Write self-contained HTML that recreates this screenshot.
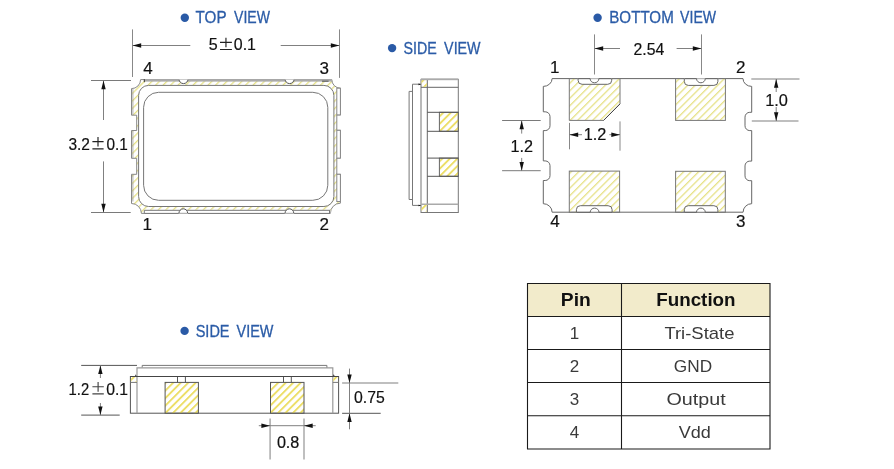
<!DOCTYPE html>
<html><head><meta charset="utf-8">
<style>
html,body{margin:0;padding:0;background:#fff;width:894px;height:469px;overflow:hidden}
svg{display:block;will-change:transform}
text{font-family:"Liberation Sans",sans-serif}
.t{fill:#2b5ca7;stroke:#2b5ca7;stroke-width:0.3px;font-size:15.8px}
.d{fill:#111;stroke:#111;stroke-width:0.2px;font-size:17px}
.th{fill:#111;font-size:18px;font-weight:bold}
.tb{fill:#3a3a3a;font-size:17px}
</style></head>
<body>
<svg width="894" height="469" viewBox="0 0 894 469">
<defs>
<pattern id="hA" width="5.3" height="10" patternUnits="userSpaceOnUse" patternTransform="rotate(45)">
<rect width="1.3" height="10" fill="#e6e186"/>
</pattern>
<pattern id="hB" width="5.3" height="10" patternUnits="userSpaceOnUse" patternTransform="rotate(45)">
<rect width="1.9" height="10" fill="#ecde66"/>
</pattern>
</defs>
<circle cx="184.8" cy="17.8" r="4.2" fill="#2a5aa6"/>
<circle cx="392.1" cy="48.1" r="4.2" fill="#2a5aa6"/>
<circle cx="597.6" cy="17.8" r="4.2" fill="#2a5aa6"/>
<circle cx="184.6" cy="330.9" r="4.2" fill="#2a5aa6"/>
<path d="M140.6,79.6 H331.8 A8.6,8.6 0 0 0 340.4,88.2 V114.9 H336.8 V130.3 H340.4 V158.1 H336.8 V174.3 H340.4 V203.2 A10,10 0 0 0 330.4,213.4 H141.4 A9.9,9.9 0 0 0 131.5,203.5 V174.3 H136.7 V158.3 H131.5 V130.5 H136.7 V115.2 H131.5 V88.6 A9,9 0 0 0 140.6,79.6 Z" fill="url(#hA)" stroke="#888" stroke-width="1"/>
<path d="M132.9,88.8 V115 M132.9,130.7 V158.1 M132.9,174.5 V201.5" stroke="#999" stroke-width="0.8" fill="none"/>
<rect x="336.8" y="88.2" width="3.6" height="26.7" fill="#fff" stroke="#888" stroke-width="1"/>
<rect x="336.8" y="130.3" width="3.6" height="27.8" fill="#fff" stroke="#888" stroke-width="1"/>
<rect x="336.8" y="174.3" width="3.6" height="27.2" fill="#fff" stroke="#888" stroke-width="1"/>
<rect x="144.3" y="79.1" width="187.7" height="2.5" fill="#aaa"/>
<path d="M144.3,79.2 V82.2" stroke="#333" stroke-width="1" fill="none"/>
<path d="M322,81.2 H328.6" stroke="#555" stroke-width="1" fill="none"/>
<rect x="144.3" y="209.8" width="186" height="3.6" fill="#fff"/>
<path d="M144.3,210.3 H330 M144.3,213.4 H330" stroke="#777" stroke-width="1" fill="none"/>
<path d="M144.3,210.3 V213.4 M329.5,210.3 V213.4" stroke="#777" stroke-width="1" fill="none"/>
<path d="M179.0,79.1 A4.5,4.5 0 0 0 188.0,79.1 Z" fill="#fff" stroke="#555" stroke-width="1"/>
<rect x="178.5" y="78" width="10" height="1.5" fill="#fff"/>
<path d="M285.1,79.1 A4.5,4.5 0 0 0 294.1,79.1 Z" fill="#fff" stroke="#555" stroke-width="1"/>
<rect x="284.6" y="78" width="10" height="1.5" fill="#fff"/>
<path d="M178.9,213.4 A4.4,4.6 0 0 1 187.70000000000002,213.4 Z" fill="#fff" stroke="#555" stroke-width="1"/>
<rect x="178.60000000000002" y="213.5" width="9.4" height="1.5" fill="#fff"/>
<path d="M285.0,213.4 A4.4,4.6 0 0 1 293.79999999999995,213.4 Z" fill="#fff" stroke="#555" stroke-width="1"/>
<rect x="284.7" y="213.5" width="9.4" height="1.5" fill="#fff"/>
<rect x="138.6" y="85.4" width="195.3" height="121.1" rx="10" fill="#fff" stroke="#777" stroke-width="1"/>
<rect x="143.6" y="92.3" width="184.2" height="108" rx="15" fill="#fff" stroke="#777" stroke-width="1"/>
<path d="M132.5,29.4 V77 M339.5,29.4 V77.9" stroke="#888" stroke-width="1" fill="none"/>
<path d="M91,80.5 H131 M91,212.5 H130.7" stroke="#7a7a7a" stroke-width="1" fill="none"/>
<path d="M132.5,45.5 H190.3 M280.7,45.5 H339.5" stroke="#808080" stroke-width="1" fill="none"/>
<path d="M103.5,80.5 V120 M103.5,161.4 V212.5" stroke="#808080" stroke-width="1" fill="none"/>
<polygon points="132.50,45.50 141.20,43.30 141.20,47.70" fill="#111"/>
<polygon points="339.50,45.50 330.80,43.30 330.80,47.70" fill="#111"/>
<polygon points="103.50,80.50 101.30,89.20 105.70,89.20" fill="#111"/>
<polygon points="103.50,212.50 101.30,203.80 105.70,203.80" fill="#111"/>
<path d="M225.95,37.70 V47.30 M220.00,42.30 H231.90 M220.00,49.50 H231.90" stroke="#222" stroke-width="1.15" fill="none"/>
<path d="M98.00,137.00 V146.60 M92.40,141.60 H103.60 M92.40,148.80 H103.60" stroke="#222" stroke-width="1.15" fill="none"/>
<rect x="421" y="79.4" width="37.3" height="133.1" fill="#fff" stroke="#777" stroke-width="1"/>
<path d="M427.3,79.4 V212.5 M421,87.3 H458.3" stroke="#666" stroke-width="1" fill="none"/>
<path d="M421,204.2 H458.3" stroke="#aaa" stroke-width="1.4" fill="none"/>
<path d="M412.5,205.4 V84.2 H421 M409.1,199.5 V91.4 H412.5 M409.1,199.5 H412.5 M412.5,205.4 H421" stroke="#777" stroke-width="1" fill="none"/>
<polygon points="418.5,83.6 421,84.2 418.5,85.2" fill="#111"/>
<polygon points="418.5,204.8 421,205.4 418.5,206.2" fill="#111"/>
<polygon points="135,375.5 137,376.5 135.8,374.4" fill="#111"/>
<polygon points="332.8,376.5 334.6,375.6 333.4,374.3" fill="#111"/>
<rect x="421.5" y="80.1" width="5.3" height="6.7" fill="url(#hB)"/>
<rect x="421.5" y="204.9" width="5.3" height="6.6" fill="url(#hB)"/>
<rect x="421" y="78.4" width="37.3" height="1.8" fill="#aaa"/>
<rect x="439.4" y="112.3" width="18.9" height="19" fill="url(#hB)" stroke="#666" stroke-width="1"/>
<rect x="439.4" y="158.1" width="18.9" height="18.2" fill="url(#hB)" stroke="#666" stroke-width="1"/>
<path d="M427.3,112.3 H458.3 M427.3,131.3 H458.3 M427.3,158.1 H458.3 M427.3,176.3 H458.3" stroke="#555" stroke-width="1" fill="none"/>
<path d="M552.1,78.6 H743 A8.7,7.8 0 0 0 751.7,86.4 V112.3 H749.8 A4.8,4.8 0 0 0 745.0,117.1 V125.8 A4.8,4.8 0 0 0 749.8,130.6 H751.7 V161.1 H749.8 A4.8,4.8 0 0 0 745.0,165.9 V175.89999999999998 A4.8,4.8 0 0 0 749.8,180.7 H751.7 V203.7 A8.6,8.5 0 0 0 743.1,212.2 H552.1 A8.8,8.5 0 0 0 543.3,203.7 V180.5 H545.2 A4.8,4.8 0 0 0 550.0,175.7 V165.70000000000002 A4.8,4.8 0 0 0 545.2,160.9 H543.3 V130.6 H545.2 A4.8,4.8 0 0 0 550.0,125.8 V116.6 A4.8,4.8 0 0 0 545.2,111.8 H543.3 V86.4 A8.8,7.8 0 0 0 552.1,78.6 Z" fill="#fff" stroke="#666" stroke-width="1"/>
<path d="M569.3,78.6 H620 V103.9 L603.6,120.4 H569.3 Z" fill="url(#hA)" stroke="#777" stroke-width="1"/>
<path d="M603.6,120.4 L620,103.9" stroke="#444" stroke-width="1" fill="none"/>
<rect x="675.6" y="78.6" width="49.8" height="41.8" fill="url(#hA)" stroke="#777" stroke-width="1"/>
<rect x="569.3" y="171.1" width="50.3" height="41.2" fill="url(#hA)" stroke="#777" stroke-width="1"/>
<rect x="675.6" y="171.3" width="49.7" height="41" fill="url(#hA)" stroke="#777" stroke-width="1"/>
<path d="M578.1,78.6 V80.3 A4,4 0 0 0 582.1,84.3 H607.7 A4,4 0 0 0 611.7,80.3 V78.6 Z" fill="#fff" stroke="#666" stroke-width="1"/>
<rect x="577.8000000000001" y="77.6" width="34.200000000000024" height="0.9" fill="#fff"/>
<path d="M578.1,78.6 H590.1 A4.4,4.2 0 0 0 598.9,78.6 H611.7" fill="none" stroke="#666" stroke-width="1"/>
<path d="M684.3,78.6 V81.4 A4,4 0 0 0 688.3,85.4 H713.9 A4,4 0 0 0 717.9,81.4 V78.6 Z" fill="#fff" stroke="#666" stroke-width="1"/>
<rect x="684.0" y="77.6" width="34.200000000000024" height="0.9" fill="#fff"/>
<path d="M684.3,78.6 H696.5 A4.4,4.2 0 0 0 705.3,78.6 H717.9" fill="none" stroke="#666" stroke-width="1"/>
<path d="M576.4,212.3 V209.7 A4,4 0 0 1 580.4,205.7 H608.1 A4,4 0 0 1 612.1,209.7 V212.3 Z" fill="#fff" stroke="#666" stroke-width="1"/>
<rect x="576.1" y="212.8" width="36.30000000000005" height="0.9" fill="#fff"/>
<path d="M576.4,212.3 H590.2 A4.4,4.2 0 0 1 599.0,212.3 H612.1" fill="none" stroke="#666" stroke-width="1"/>
<path d="M684.3,212.3 V209.7 A4,4 0 0 1 688.3,205.7 H713.9 A4,4 0 0 1 717.9,209.7 V212.3 Z" fill="#fff" stroke="#666" stroke-width="1"/>
<rect x="684.0" y="212.8" width="34.200000000000024" height="0.9" fill="#fff"/>
<path d="M684.3,212.3 H696.5 A4.4,4.2 0 0 1 705.3,212.3 H717.9" fill="none" stroke="#666" stroke-width="1"/>
<path d="M594.5,34.4 V74.5 M701.5,34.4 V74.5" stroke="#888" stroke-width="1" fill="none"/>
<path d="M594.5,48.5 H620 M676.6,48.5 H701.5" stroke="#808080" stroke-width="1" fill="none"/>
<polygon points="594.50,48.50 603.20,46.30 603.20,50.70" fill="#111"/>
<polygon points="701.50,48.50 692.80,46.30 692.80,50.70" fill="#111"/>
<path d="M751.3,79 H799.5 M751.8,121 H798.5" stroke="#aaa" stroke-width="1.5" fill="none"/>
<path d="M776.2,79 V92 M776.2,107 V121" stroke="#808080" stroke-width="1" fill="none"/>
<polygon points="776.20,79.00 774.00,87.70 778.40,87.70" fill="#111"/>
<polygon points="776.20,121.00 774.00,112.30 778.40,112.30" fill="#111"/>
<path d="M502.1,120.5 H540.7 M502.1,170.7 H540.7" stroke="#7a7a7a" stroke-width="1" fill="none"/>
<path d="M521.7,120.5 V133.6 M521.7,157.9 V170.7" stroke="#808080" stroke-width="1" fill="none"/>
<polygon points="521.70,120.50 519.50,129.20 523.90,129.20" fill="#111"/>
<polygon points="521.70,170.70 519.50,162.00 523.90,162.00" fill="#111"/>
<path d="M569.5,122.9 V149.3 M620,121.4 V150.7" stroke="#888" stroke-width="1" fill="none"/>
<path d="M569.5,134.7 H582 M609.3,134.7 H620" stroke="#808080" stroke-width="1" fill="none"/>
<polygon points="569.50,134.70 578.20,132.50 578.20,136.90" fill="#111"/>
<polygon points="620.00,134.70 611.30,132.50 611.30,136.90" fill="#111"/>
<path d="M142.2,367.5 V365.4 H326.9 V367.9" stroke="#777" stroke-width="1" fill="none"/>
<path d="M137,376.5 V367.9 H332.8 V376.5" stroke="#999" stroke-width="1.2" fill="none"/>
<rect x="130.4" y="376.5" width="208.2" height="36.7" fill="#fff" stroke="#555" stroke-width="1"/>
<path d="M137,376.5 V413.2 M332.8,376.5 V413.2" stroke="#999" stroke-width="1.2" fill="none"/>
<path d="M130.4,382.4 H137 M332.8,382.4 H338.6" stroke="#777" stroke-width="1" fill="none"/>
<path d="M177.5,376.5 V382.4 M185.4,376.5 V382.4 M283.5,376.5 V382.4 M291.3,376.5 V382.4" stroke="#555" stroke-width="1" fill="none"/>
<rect x="130.9" y="377" width="5.6" height="5" fill="url(#hB)"/>
<rect x="333.3" y="377" width="4.8" height="5" fill="url(#hB)"/>
<rect x="165.1" y="382.4" width="33.3" height="30.8" fill="url(#hB)" stroke="#555" stroke-width="1"/>
<rect x="270.5" y="382.4" width="33.5" height="30.8" fill="url(#hB)" stroke="#555" stroke-width="1"/>
<path d="M130.4,376.5 H338.6" stroke="#444" stroke-width="1" fill="none"/>
<path d="M81.2,365.4 H137 M81.2,415.1 H119.7" stroke="#555" stroke-width="1" fill="none"/>
<path d="M342.1,413.3 H380.7" stroke="#555" stroke-width="1" fill="none"/>
<path d="M342.1,383.1 H398.3" stroke="#aaa" stroke-width="1.5" fill="none"/>
<path d="M270.1,418.4 V459.6 M304,418.4 V459.6" stroke="#aaa" stroke-width="1.5" fill="none"/>
<path d="M100.4,365.4 V378 M100.4,403 V415.1" stroke="#808080" stroke-width="1" fill="none"/>
<path d="M349.5,368.6 V429.3" stroke="#808080" stroke-width="1" fill="none"/>
<path d="M258.8,425.7 H315.7" stroke="#808080" stroke-width="1" fill="none"/>
<polygon points="100.40,365.40 98.20,374.10 102.60,374.10" fill="#111"/>
<polygon points="100.40,415.10 98.20,406.40 102.60,406.40" fill="#111"/>
<polygon points="349.50,383.10 347.30,374.40 351.70,374.40" fill="#111"/>
<polygon points="349.50,413.30 347.30,422.00 351.70,422.00" fill="#111"/>
<polygon points="270.10,425.70 261.40,423.50 261.40,427.90" fill="#111"/>
<polygon points="304.00,425.70 312.70,423.50 312.70,427.90" fill="#111"/>
<path d="M98.10,382.10 V391.70 M92.40,386.70 H103.80 M92.40,393.90 H103.80" stroke="#444" stroke-width="1.15" fill="none"/>
<rect x="527.5" y="283.5" width="242.5" height="33" fill="#f2ebcb"/>
<path d="M527.5,283.5 H770 V449 H527.5 Z M621.5,283.5 V449 M527.5,316.5 H770 M527.5,349.5 H770 M527.5,382.5 H770 M527.5,415.7 H770" stroke="#1a1a1a" stroke-width="1.1" fill="none"/>
<text class="t" x="195.60" y="23" textLength="30.98" lengthAdjust="spacingAndGlyphs">TOP</text>
<text class="t" x="234.11" y="23" textLength="35.88" lengthAdjust="spacingAndGlyphs">VIEW</text>
<text class="t" x="403.45" y="54" textLength="33.24" lengthAdjust="spacingAndGlyphs">SIDE</text>
<text class="t" x="444.12" y="54" textLength="36.49" lengthAdjust="spacingAndGlyphs">VIEW</text>
<text class="t" x="609.26" y="23" textLength="64.54" lengthAdjust="spacingAndGlyphs">BOTTOM</text>
<text class="t" x="680.11" y="23" textLength="35.97" lengthAdjust="spacingAndGlyphs">VIEW</text>
<text class="t" x="195.71" y="337" textLength="33.84" lengthAdjust="spacingAndGlyphs">SIDE</text>
<text class="t" x="236.57" y="337" textLength="36.83" lengthAdjust="spacingAndGlyphs">VIEW</text>
<text class="d" x="208.87" y="50" textLength="8.94" lengthAdjust="spacingAndGlyphs">5</text>
<text class="d" x="233.84" y="50" textLength="22.17" lengthAdjust="spacingAndGlyphs">0.1</text>
<text class="d" x="68.38" y="150" textLength="21.54" lengthAdjust="spacingAndGlyphs">3.2</text>
<text class="d" x="106.50" y="150" textLength="21.36" lengthAdjust="spacingAndGlyphs">0.1</text>
<text class="d" x="633.50" y="55" textLength="30.81" lengthAdjust="spacingAndGlyphs">2.54</text>
<text class="d" x="765.23" y="106" textLength="22.73" lengthAdjust="spacingAndGlyphs">1.0</text>
<text class="d" x="510.45" y="152" textLength="22.54" lengthAdjust="spacingAndGlyphs">1.2</text>
<text class="d" x="583.79" y="140" textLength="22.65" lengthAdjust="spacingAndGlyphs">1.2</text>
<text class="d" x="68.59" y="395" textLength="20.52" lengthAdjust="spacingAndGlyphs">1.2</text>
<text class="d" x="106.25" y="395" textLength="21.87" lengthAdjust="spacingAndGlyphs">0.1</text>
<text class="d" x="354.03" y="403" textLength="30.74" lengthAdjust="spacingAndGlyphs">0.75</text>
<text class="d" x="276.89" y="448" textLength="22.50" lengthAdjust="spacingAndGlyphs">0.8</text>
<text class="d" x="143.33" y="74">4</text>
<text class="d" x="319.41" y="74">3</text>
<text class="d" x="142.45" y="230">1</text>
<text class="d" x="319.44" y="230">2</text>
<text class="d" x="549.99" y="73">1</text>
<text class="d" x="736.08" y="73">2</text>
<text class="d" x="550.25" y="227">4</text>
<text class="d" x="736.01" y="227">3</text>
<text class="th" x="560.84" y="306" textLength="29.96" lengthAdjust="spacingAndGlyphs">Pin</text>
<text class="th" x="656.23" y="306" textLength="79.35" lengthAdjust="spacingAndGlyphs">Function</text>
<text class="tb" x="569.75" y="339">1</text>
<text class="tb" x="569.67" y="372">2</text>
<text class="tb" x="569.82" y="405">3</text>
<text class="tb" x="569.68" y="438">4</text>
<text class="tb" x="664.42" y="339" textLength="69.98" lengthAdjust="spacingAndGlyphs">Tri-State</text>
<text class="tb" x="673.87" y="372" textLength="38.26" lengthAdjust="spacingAndGlyphs">GND</text>
<text class="tb" x="666.56" y="405" textLength="59.12" lengthAdjust="spacingAndGlyphs">Output</text>
<text class="tb" x="678.72" y="438" textLength="32.13" lengthAdjust="spacingAndGlyphs">Vdd</text>
</svg>
</body></html>
